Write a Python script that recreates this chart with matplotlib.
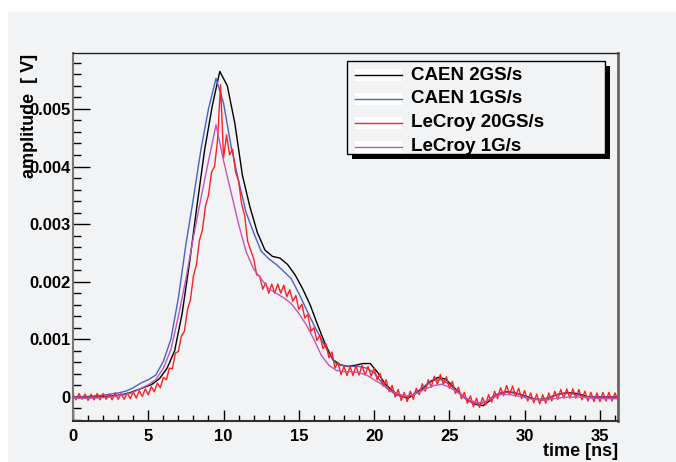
import numpy as np
import matplotlib
matplotlib.use('Agg')
import matplotlib.pyplot as plt
from matplotlib.patches import Rectangle
from matplotlib.lines import Line2D
from matplotlib.ticker import MultipleLocator, FixedLocator, FixedFormatter

# ---- data (amplitude in mV) ----
# CAEN 2GS/s, samples every 0.5 ns starting at 0.25 ns
caen2_t0, caen2_dt = 0.25, 0.5
caen2_mv = [0.0, 0.0, 0.0, 0.0, 0.01, 0.02, 0.04, 0.07, 0.12, 0.17,
            0.22, 0.32, 0.5, 0.8, 1.45, 2.35, 3.35, 4.3, 5.05, 5.65,
            5.4, 4.75, 3.85, 3.3, 2.85, 2.55, 2.44, 2.41, 2.3, 2.12,
            1.88, 1.6, 1.25, 0.92, 0.65, 0.56, 0.53, 0.55, 0.58, 0.58,
            0.42, 0.22, 0.1, 0.02, -0.02, 0.06, 0.15, 0.27, 0.34, 0.31,
            0.18, 0.05, -0.06, -0.13, -0.15, -0.05, 0.05, 0.09, 0.08, 0.04,
            0.0, -0.04, -0.05, 0.0, 0.05, 0.07, 0.07, 0.04, 0.0, 0.0,
            0.0, 0.0, 0.0]

# CAEN 1GS/s, read every 0.5 ns starting at 0 ns
caen1_t0, caen1_dt = 0.0, 0.5
caen1_mv = [0.0, 0.0, 0.01, 0.02, 0.03, 0.05, 0.07, 0.1, 0.16, 0.24,
            0.3, 0.38, 0.62, 1.0, 1.72, 2.65, 3.45, 4.3, 5.0, 5.53,
            5.1, 4.35, 3.75, 3.2, 2.85, 2.53, 2.4, 2.3, 2.18, 2.05,
            1.8, 1.52, 1.25, 1.0, 0.75, 0.57, 0.54, 0.53, 0.53, 0.5,
            0.42, 0.25, 0.12, 0.03, 0.01, 0.03, 0.12, 0.22, 0.29, 0.3,
            0.22, 0.1, -0.02, -0.1, -0.13, -0.07, 0.03, 0.08, 0.08, 0.06,
            0.01, -0.03, -0.04, -0.02, 0.03, 0.06, 0.06, 0.04, 0.01, 0.0,
            0.0, 0.0, 0.0, 0.0]

# LeCroy 1G/s, read every 0.5 ns starting at 0 ns
lecroy1_t0, lecroy1_dt = 0.0, 0.5
lecroy1_mv = [-0.02, -0.02, -0.02, -0.02, -0.01, 0.0, 0.02, 0.04, 0.08, 0.15,
              0.21, 0.3, 0.5, 0.82, 1.4, 2.05, 2.78, 3.45, 4.1, 4.72,
              4.1, 3.55, 3.0, 2.52, 2.22, 2.05, 1.88, 1.8, 1.72, 1.62,
              1.45, 1.25, 1.0, 0.72, 0.55, 0.46, 0.44, 0.44, 0.42, 0.38,
              0.3, 0.22, 0.12, 0.06, 0.02, 0.03, 0.08, 0.15, 0.2, 0.22,
              0.17, 0.09, 0.0, -0.07, -0.1, -0.07, 0.0, 0.05, 0.04, 0.02,
              -0.01, -0.04, -0.05, -0.05, -0.03, -0.01, 0.0, 0.0, -0.01, -0.02,
              -0.03, -0.03, -0.03, -0.03]

# LeCroy 20GS/s (shown every 0.2 ns), noisy trace
lecroy20_t0, lecroy20_dt = 0.0, 0.2
lecroy20_mv = [0.05, -0.05, 0.06, -0.04, 0.05, -0.06, 0.05, -0.05, 0.06, -0.05,
               0.06, -0.04, 0.05, -0.05, 0.07, -0.04, 0.06, -0.04, 0.07, -0.03,
               0.09, -0.02, 0.11, 0.01, 0.14, 0.04, 0.18, 0.09, 0.24, 0.16,
               0.34, 0.3, 0.5, 0.49, 0.76, 0.79, 1.06, 1.14, 1.51, 1.69,
               2.1, 2.3, 2.72, 2.9, 3.32, 3.5, 3.9, 4.0, 4.45, 5.42,
               4.15, 4.55, 4.2, 4.3, 3.9, 3.75, 3.35, 3.15, 2.7, 2.55,
               2.4, 2.12, 2.1, 1.87, 1.98, 1.8, 1.96, 1.8, 1.96, 1.8,
               1.94, 1.74, 1.86, 1.66, 1.76, 1.52, 1.61, 1.37, 1.43, 1.14,
               1.2, 0.98, 1.07, 0.84, 0.92, 0.68, 0.78, 0.5, 0.6, 0.39,
               0.53, 0.37, 0.53, 0.37, 0.54, 0.38, 0.55, 0.38, 0.53, 0.36,
               0.5, 0.3, 0.41, 0.19, 0.3, 0.09, 0.2, 0.0, 0.13, -0.06,
               0.08, -0.08, 0.1, -0.04, 0.15, 0.04, 0.23, 0.1, 0.3, 0.17,
               0.36, 0.22, 0.39, 0.22, 0.35, 0.15, 0.27, 0.06, 0.17, -0.03,
               0.08, -0.11, 0.02, -0.17, -0.02, -0.18, -0.01, -0.14, 0.04, -0.09,
               0.1, -0.03, 0.16, 0.02, 0.2, 0.04, 0.19, 0.01, 0.15, -0.03,
               0.11, -0.07, 0.07, -0.1, 0.05, -0.12, 0.04, -0.11, 0.07, -0.07,
               0.1, -0.04, 0.13, -0.02, 0.14, -0.02, 0.14, -0.02, 0.13, -0.05,
               0.1, -0.07, 0.08, -0.08, 0.07, -0.08, 0.08, -0.07, 0.08, -0.07,
               0.07, -0.06]

labels = ['CAEN 2GS/s', 'CAEN 1GS/s', 'LeCroy 20GS/s', 'LeCroy 1G/s']
colors = ['#000000', '#4862c8', '#ff2020', '#c455b8']

ytick_vals = [0, 0.001, 0.002, 0.003, 0.004, 0.005]
ytick_labels = ['0', '0.001', '0.002', '0.003', '0.004', '0.005']
xtick_vals = [0, 5, 10, 15, 20, 25, 30, 35]

series = [(caen2_t0, caen2_dt, caen2_mv),
          (caen1_t0, caen1_dt, caen1_mv),
          (lecroy20_t0, lecroy20_dt, lecroy20_mv),
          (lecroy1_t0, lecroy1_dt, lecroy1_mv)]

# ---- figure ----
W, H = 676, 462
bg = '#f2f3f5'
plt.rcParams['font.family'] = ['Liberation Sans', 'DejaVu Sans']
plt.rcParams['font.weight'] = 'bold'

fig = plt.figure(figsize=(W/100, H/100), dpi=100)
fig.patch.set_facecolor('white')
fig.patches.append(Rectangle((8/W, 0), 1-8/W, 1-12/H, transform=fig.transFigure,
                             facecolor=bg, edgecolor='none', zorder=-10))

def fx(px):
    return px/W

def fy(py):
    return 1 - py/H

ax = fig.add_axes([fx(73), fy(421), (618-73)/W, (421-53)/H])
ax.set_facecolor(bg)

for (t0, dt, mv), c in zip(series, colors):
    t = t0 + dt*np.arange(len(mv))
    ax.plot(t, np.array(mv)*1e-3, color=c, lw=1.0)

ax.set_xlim(0, 36.2)
ax.set_ylim(-0.000417, 0.00597)

ax.xaxis.set_major_locator(FixedLocator(xtick_vals))
ax.xaxis.set_minor_locator(MultipleLocator(1))
ax.yaxis.set_major_locator(FixedLocator(ytick_vals))
ax.yaxis.set_major_formatter(FixedFormatter(ytick_labels))
ax.yaxis.set_minor_locator(MultipleLocator(0.0002))

ax.tick_params(axis='x', which='major', direction='in', length=8, width=1, pad=6,
               labelsize=12, top=False)
ax.tick_params(axis='x', which='minor', direction='in', length=4, width=1, top=False)
ax.tick_params(axis='y', which='major', direction='in', length=12, width=1, pad=2,
               labelsize=12, right=False)
ax.tick_params(axis='y', which='minor', direction='in', length=6, width=1, right=False)
for lab in ax.get_xticklabels() + ax.get_yticklabels():
    lab.set_fontweight('bold')

ax.spines['top'].set_color('#202020')
ax.spines['top'].set_linewidth(1.0)
ax.spines['left'].set_color('#777777')
ax.spines['left'].set_linewidth(1.5)
ax.spines['right'].set_color('#666666')
ax.spines['right'].set_linewidth(2.0)
ax.spines['bottom'].set_color('#303030')
ax.spines['bottom'].set_linewidth(1.5)

# axis titles, ROOT style
fig.text(fx(618), fy(452), 'time [ns]', ha='right', va='center', fontsize=13, fontweight='bold')
fig.text(fx(30), fy(54), 'amplitude  [ V]', rotation=90, ha='center', va='top',
         fontsize=13, fontweight='bold')

# legend box with shadow
lx0, lx1, ly0, ly1 = 347, 605, 61, 154
fig.patches.append(Rectangle((fx(lx0+5), fy(ly1+5)), (lx1-lx0)/W, (ly1-ly0)/H,
                             transform=fig.transFigure, facecolor='black',
                             edgecolor='none', zorder=5))
fig.patches.append(Rectangle((fx(lx0), fy(ly1)), (lx1-lx0)/W, (ly1-ly0)/H,
                             transform=fig.transFigure, facecolor=bg,
                             edgecolor='black', lw=1.0, zorder=6))
entry_y = [75, 98.5, 122.5, 146.5]
for yy, lab, c in zip(entry_y, labels, colors):
    fig.patches.append(Rectangle((fx(355), fy(yy+6)), 47/W, 12/H,
                                 transform=fig.transFigure, facecolor='white',
                                 edgecolor='none', zorder=7))
    fig.lines.append(Line2D([fx(355), fx(402)], [fy(yy), fy(yy)],
                            transform=fig.transFigure, color=c, lw=1.0, zorder=8))
    fig.text(fx(411), fy(yy), lab, ha='left', va='center', fontsize=13.5,
             fontweight='bold', zorder=9)

fig.savefig('out.png', dpi=100, facecolor=fig.get_facecolor())
